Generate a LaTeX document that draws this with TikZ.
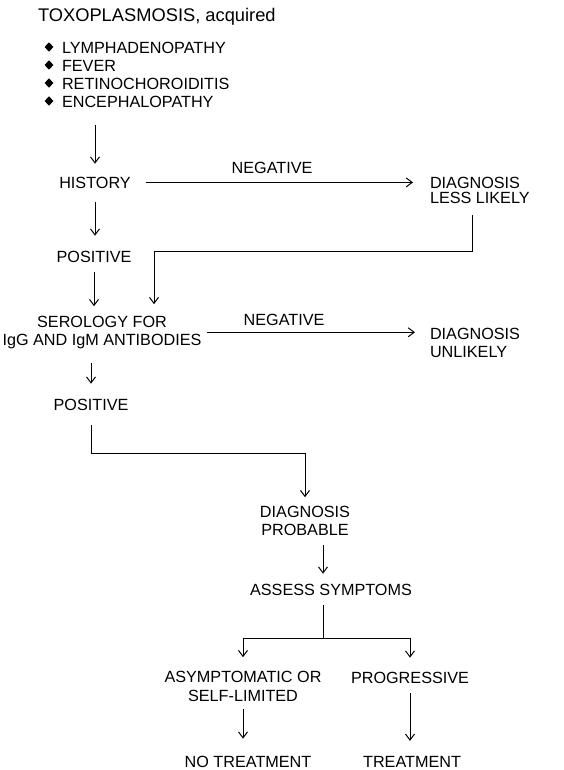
\documentclass[tikz,border=0pt]{standalone}
\usepackage{fontspec}
\setmainfont{Liberation Sans}
\usetikzlibrary{positioning,arrows.meta,shapes.geometric}

\begin{document}
\begin{tikzpicture}[
    x=1pt, y=-1pt,
    % text labels: tight boxes, connectors are shortened by eye
    lbl/.style={inner sep=0pt, outer sep=0pt, font=\fontsize{16.2}{17.5}\selectfont},
    lblblock/.style={lbl, align=center},
    lblleft/.style={lbl, align=left},
    bullet/.style={diamond, fill=black, inner sep=0pt, minimum width=9pt, minimum height=9.5pt},
    conn/.style={line width=1pt, black},
    arr/.style={conn, -{Straight Barb[length=6pt,width=9pt]}}
]
\useasboundingbox (0,0) rectangle (563,770);

% Title and symptom list
\node[lbl, anchor=base west, font=\fontsize{18.3}{20}\selectfont] (title) at (38,22) {TOXOPLASMOSIS, acquired};
\foreach \i/\yb/\txt in {1/54/LYMPHADENOPATHY, 2/72/FEVER, 3/90/RETINOCHOROIDITIS, 4/108/ENCEPHALOPATHY} {
  \node[bullet] (dot\i) at (49,\yb-7) {};
  \node[lbl, anchor=base west] (sym\i) at (62,\yb) {\txt};
}

% History step (multi-line nodes sit on their last baseline)
\node[lbl, anchor=base] (hist) at (95,188) {HISTORY};
\node[lbl, anchor=base] (neg1) at (272,173) {NEGATIVE};
\node[lblleft, anchor=base west] (less) at (430,203) {DIAGNOSIS\\[-2.5pt]LESS LIKELY};
\node[lbl, anchor=base] (pos1) at (94,262) {POSITIVE};

% Serology step
\node[lblblock, anchor=base] (sero) at (102,345) {SEROLOGY FOR\\IgG AND IgM ANTIBODIES};
\node[lbl, anchor=base] (neg2) at (284,325) {NEGATIVE};
\node[lblleft, anchor=base west] (unl) at (430,357) {DIAGNOSIS\\UNLIKELY};
\node[lbl, anchor=base] (pos2) at (91,410) {POSITIVE};

% Diagnosis and symptoms
\node[lblblock, anchor=base] (prob) at (305,535) {DIAGNOSIS\\PROBABLE};
\node[lbl, anchor=base] (assess) at (331,595) {ASSESS SYMPTOMS};
\node[lblblock, anchor=base] (asym) at (243,701) {ASYMPTOMATIC OR\\[1pt]SELF-LIMITED};
\node[lbl, anchor=base] (prog) at (410,683) {PROGRESSIVE};
\node[lbl, anchor=base] (notr) at (248,767) {NO TREATMENT};
\node[lbl, anchor=base] (treat) at (412,767) {TREATMENT};

% Connectors
\draw[arr, shorten <=17pt, shorten >=13pt] (hist.north |- sym4.south) -- (hist.north);
\draw[arr, shorten <=15pt, shorten >=17pt] (hist.east) -- (hist.east -| less.west);
\draw[arr, shorten >=12pt] ([xshift=-7pt, yshift=-12pt]less.south) -- ++(0,36) -| ([xshift=52pt]sero.north);
\draw[arr, shorten <=14pt, shorten >=15pt] (hist.south) -- (hist.south |- pos1.north);
\draw[arr, shorten <=10pt, shorten >=10pt] (pos1.south) -- (pos1.south |- sero.north);
\draw[arr, shorten <=6pt, shorten >=15pt] (sero.east) -- (sero.east -| unl.west);
\draw[arr, shorten <=15pt, shorten >=15pt] (pos2.north |- sero.south) -- (pos2.north);
\draw[arr, shorten >=9pt] ([yshift=-15pt]pos2.south) -- ++(0,28) -| (prob.north);
\draw[arr, shorten <=10pt, shorten >=10pt] ([xshift=-8pt]assess.north |- prob.south) -- ([xshift=-8pt]assess.north);
\draw[conn] ([xshift=-8pt, yshift=-10pt]assess.south) -- ++(0,33) coordinate (split);
\draw[arr, shorten >=14pt] (split) -| (asym.north);
\draw[arr, shorten >=14pt] (split) -| (prog.north);
\draw[arr, shorten <=8pt, shorten >=17pt] (asym.south) -- (asym.south |- notr.north);
\draw[arr, shorten <=10pt, shorten >=15pt] (prog.south) -- (prog.south |- treat.north);

\end{tikzpicture}
\end{document}
